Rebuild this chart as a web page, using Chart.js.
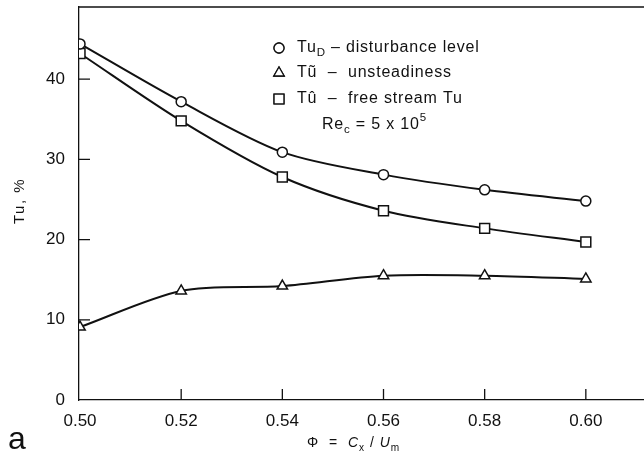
<!DOCTYPE html>
<html>
<head>
<meta charset="utf-8">
<script src="https://cdn.jsdelivr.net/npm/chart.js@4.4.1/dist/chart.umd.min.js"></script>
<style>
  html, body { margin: 0; padding: 0; background: #fff; }
  #wrap { width: 644px; height: 451px; position: relative; }
</style>
</head>
<body>
<div id="wrap"><canvas id="tuChart" width="644" height="451"></canvas></div>
<script>
// flow coefficient and turbulence levels (%)
const phi = [0.50, 0.52, 0.54, 0.56, 0.58, 0.60];
const tuDisturbance = [44.4, 37.2, 30.9, 28.1, 26.2, 24.8];
const tuUnsteady = [9.1, 13.6, 14.2, 15.5, 15.5, 15.1];
const tuFreeStream = [43.2, 34.8, 27.8, 23.6, 21.4, 19.7];

const xTicks = [0.50, 0.52, 0.54, 0.56, 0.58, 0.60];
const yTicks = [0, 10, 20, 30, 40];

const INK = '#111';
const FONT = '"Liberation Sans", Arial, sans-serif';

function pts(ys) {
    return phi.map((x, i) => ({ x: x, y: ys[i] }));
}

function series(label, ys, style, r) {
    return {
        label: label,
        data: pts(ys),
        borderColor: INK,
        borderWidth: 2,
        backgroundColor: '#fff',
        pointStyle: style,
        pointRadius: r,
        pointBorderWidth: 1.5,
        pointBorderColor: INK,
        pointBackgroundColor: '#fff',
        tension: 0.3,
        fill: false
    };
}

// draws text pieces with sub/superscripts, returns end x
function rich(ctx, parts, x, y, size) {
    parts.forEach(p => {
        let s = size, dy = 0;
        if (p.sub) { s = size * 0.72; dy = size * 0.3; }
        if (p.sup) { s = size * 0.72; dy = -size * 0.42; }
        ctx.font = (p.it ? 'italic ' : '') + s + 'px ' + FONT;
        ctx.fillText(p.t, x, y + dy);
        x += ctx.measureText(p.t).width;
    });
    return x;
}

// frame, inward ticks, legend and titles
const decorPlugin = {
    id: 'decor',
    afterDraw(chart) {
        const ctx = chart.ctx;
        const a = chart.chartArea;
        const xs = chart.scales.x, ys = chart.scales.y;
        ctx.save();
        ctx.strokeStyle = INK;
        ctx.lineWidth = 1.3;

        // top border
        ctx.beginPath();
        ctx.moveTo(a.left, a.top);
        ctx.lineTo(a.right, a.top);
        ctx.stroke();

        // inward tick marks
        ctx.beginPath();
        xTicks.slice(1).forEach(v => {
            const px = xs.getPixelForValue(v);
            ctx.moveTo(px, a.bottom);
            ctx.lineTo(px, a.bottom - 11);
        });
        yTicks.slice(1).forEach(v => {
            const py = ys.getPixelForValue(v);
            ctx.moveTo(a.left, py);
            ctx.lineTo(a.left + 11, py);
        });
        ctx.stroke();

        // legend
        ctx.fillStyle = INK;
        ctx.textBaseline = 'middle';
        ctx.textAlign = 'left';
        ctx.letterSpacing = '0.8px';
        const lx = 279, tx = 297, size = 16;
        const rows = [
            { style: 'circle', r: 5, y: 48, parts: [{ t: 'Tu' }, { t: 'D', sub: true }, { t: ' \u2013 disturbance level' }] },
            { style: 'triangle', r: 6, y: 73, parts: [{ t: 'T\u0169  \u2013  unsteadiness' }] },
            { style: 'rect', r: 7, y: 99, parts: [{ t: 'T\u00fb  \u2013  free stream Tu' }] }
        ];
        rows.forEach(row => {
            Chart.helpers.drawPoint(ctx, {
                pointStyle: row.style, radius: row.r, rotation: 0, borderWidth: 1.5
            }, lx, row.y);
            ctx.fillStyle = '#fff';
            ctx.fill();
            ctx.stroke();
            ctx.fillStyle = INK;
            rich(ctx, row.parts, tx, row.y, size);
        });
        rich(ctx, [{ t: 'Re' }, { t: 'c', sub: true }, { t: ' = 5 x 10' }, { t: '5', sup: true }], 322, 125, size);

        // x axis title
        ctx.textBaseline = 'alphabetic';
        ctx.letterSpacing = '1px';
        rich(ctx, [{ t: '\u03a6  =  ' }, { t: 'C', it: true }, { t: 'x', sub: true }, { t: ' / ' }, { t: 'U', it: true }, { t: 'm', sub: true }], 307, 447, 14);

        // y axis title
        ctx.save();
        ctx.translate(24, 201);
        ctx.rotate(-Math.PI / 2);
        ctx.textAlign = 'center';
        ctx.font = '15px ' + FONT;
        ctx.letterSpacing = '1.5px';
        ctx.fillText('Tu, %', 0, 0);
        ctx.restore();

        // panel letter
        ctx.letterSpacing = '0px';
        ctx.font = '32px ' + FONT;
        ctx.fillText('a', 8, 449);
        ctx.restore();
    }
};

new Chart(document.getElementById('tuChart'), {
    type: 'line',
    data: {
        datasets: [
            series('Tu_D - disturbance level', tuDisturbance, 'circle', 5),
            series('Tu~ - unsteadiness', tuUnsteady, 'triangle', 6),
            series('Tu^ - free stream Tu', tuFreeStream, 'rect', 7)
        ]
    },
    options: {
        responsive: false,
        animation: false,
        layout: { autoPadding: false, padding: { top: 7, right: 0, left: 0, bottom: 0 } },
        plugins: {
            legend: { display: false },
            tooltip: { enabled: false }
        },
        scales: {
            x: {
                type: 'linear',
                min: 0.4998,
                max: 0.6115,
                afterBuildTicks: s => { s.ticks = xTicks.map(v => ({ value: v })); },
                afterFit: s => {
                    s.height = 51;
                    s.paddingLeft = 0;
                    s.paddingRight = 0;
                },
                grid: { display: false },
                border: { display: true, color: INK, width: 1.3 },
                ticks: {
                    color: INK,
                    padding: 3,
                    font: { family: FONT, size: 17 },
                    maxRotation: 0,
                    callback: v => v.toFixed(2)
                }
            },
            y: {
                type: 'linear',
                min: 0,
                max: 49,
                afterBuildTicks: s => { s.ticks = yTicks.map(v => ({ value: v })); },
                afterFit: s => {
                    s.width = 79;
                    s.paddingTop = 0;
                    s.paddingBottom = 0;
                },
                grid: { display: false },
                border: { display: true, color: INK, width: 1.3 },
                ticks: {
                    color: INK,
                    padding: 6,
                    font: { family: FONT, size: 17 }
                }
            }
        }
    },
    plugins: [decorPlugin]
});
</script>
</body>
</html>
